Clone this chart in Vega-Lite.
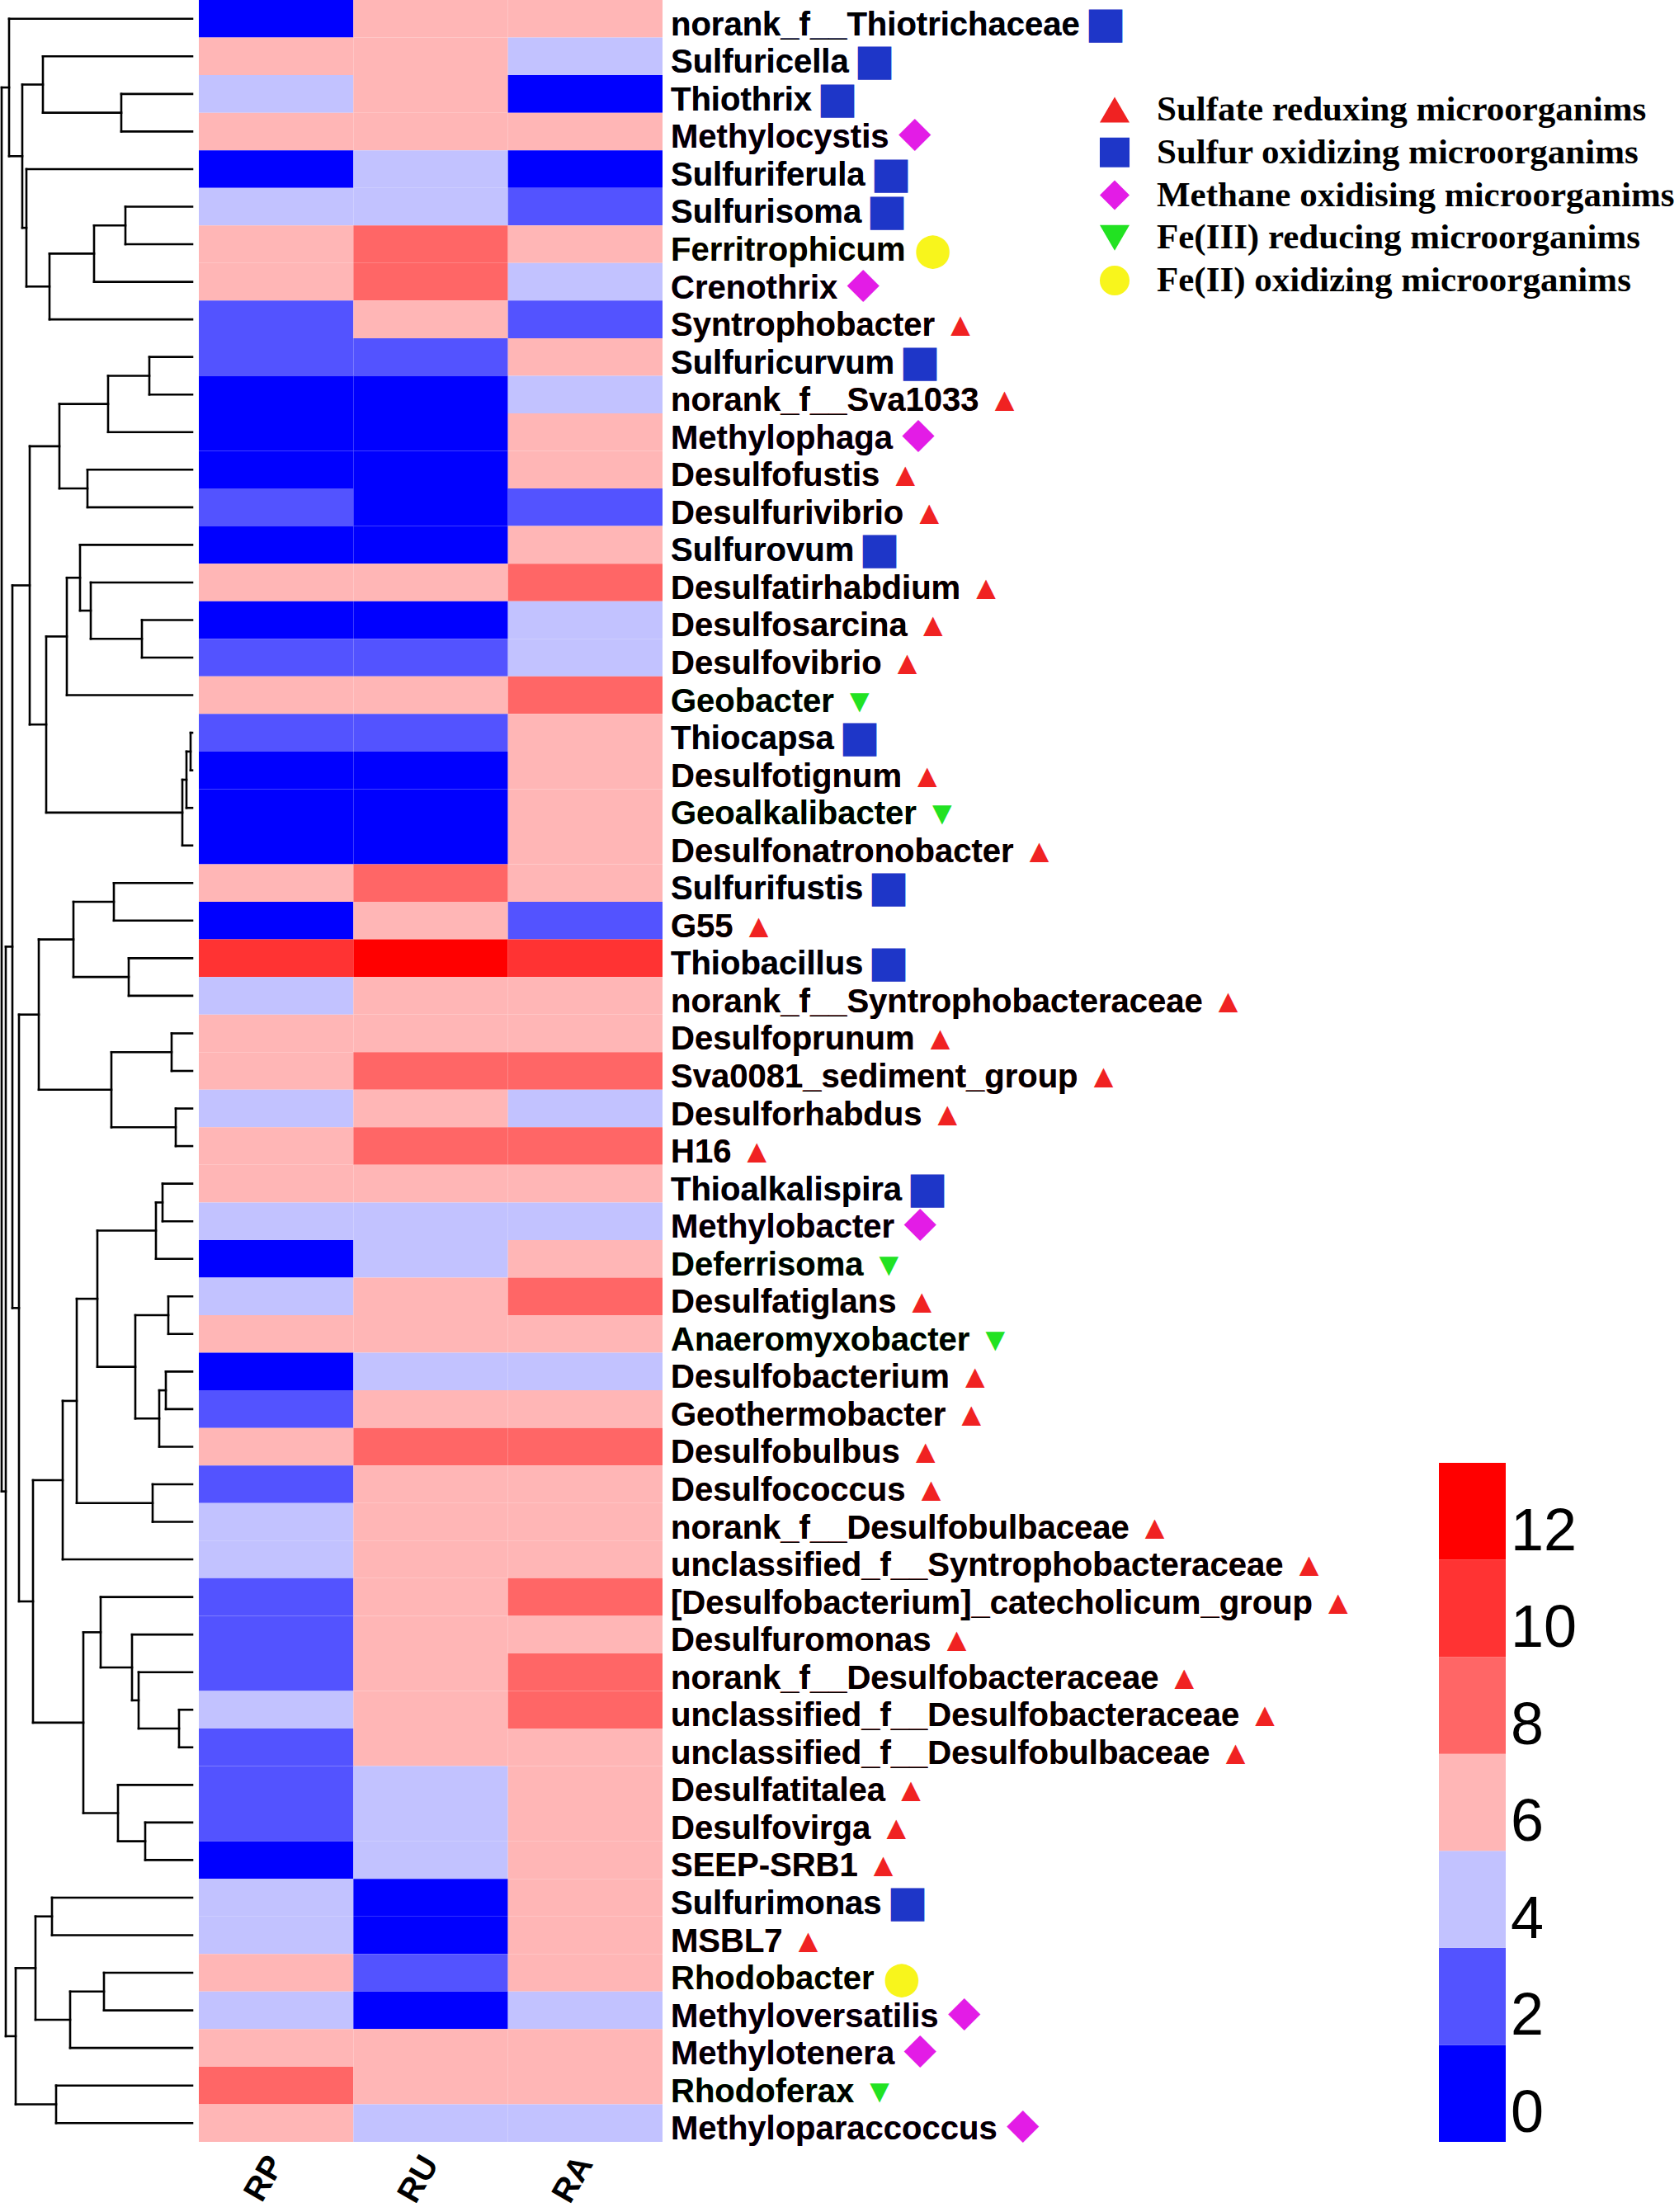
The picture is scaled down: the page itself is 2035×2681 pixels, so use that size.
{
"$schema": "https://vega.github.io/schema/vega-lite/v6.json",
"background": "white",
"padding": 0,
"bounds": "flush",
"spacing": 0,
"config": {"view": {"stroke": null}, "font": "Liberation Sans"},
"datasets": {
"taxa": [
{"i":1,"taxon":"norank_f__Thiotrichaceae","group":"SOM","RP":1,"RU":7,"RA":7},
{"i":2,"taxon":"Sulfuricella","group":"SOM","RP":7,"RU":7,"RA":5},
{"i":3,"taxon":"Thiothrix","group":"SOM","RP":5,"RU":7,"RA":1},
{"i":4,"taxon":"Methylocystis","group":"MOM","RP":7,"RU":7,"RA":7},
{"i":5,"taxon":"Sulfuriferula","group":"SOM","RP":1,"RU":5,"RA":1},
{"i":6,"taxon":"Sulfurisoma","group":"SOM","RP":5,"RU":5,"RA":3},
{"i":7,"taxon":"Ferritrophicum","group":"FeOM","RP":7,"RU":9,"RA":7},
{"i":8,"taxon":"Crenothrix","group":"MOM","RP":7,"RU":9,"RA":5},
{"i":9,"taxon":"Syntrophobacter","group":"SRM","RP":3,"RU":7,"RA":3},
{"i":10,"taxon":"Sulfuricurvum","group":"SOM","RP":3,"RU":3,"RA":7},
{"i":11,"taxon":"norank_f__Sva1033","group":"SRM","RP":1,"RU":1,"RA":5},
{"i":12,"taxon":"Methylophaga","group":"MOM","RP":1,"RU":1,"RA":7},
{"i":13,"taxon":"Desulfofustis","group":"SRM","RP":1,"RU":1,"RA":7},
{"i":14,"taxon":"Desulfurivibrio","group":"SRM","RP":3,"RU":1,"RA":3},
{"i":15,"taxon":"Sulfurovum","group":"SOM","RP":1,"RU":1,"RA":7},
{"i":16,"taxon":"Desulfatirhabdium","group":"SRM","RP":7,"RU":7,"RA":9},
{"i":17,"taxon":"Desulfosarcina","group":"SRM","RP":1,"RU":1,"RA":5},
{"i":18,"taxon":"Desulfovibrio","group":"SRM","RP":3,"RU":3,"RA":5},
{"i":19,"taxon":"Geobacter","group":"FeRM","RP":7,"RU":7,"RA":9},
{"i":20,"taxon":"Thiocapsa","group":"SOM","RP":3,"RU":3,"RA":7},
{"i":21,"taxon":"Desulfotignum","group":"SRM","RP":1,"RU":1,"RA":7},
{"i":22,"taxon":"Geoalkalibacter","group":"FeRM","RP":1,"RU":1,"RA":7},
{"i":23,"taxon":"Desulfonatronobacter","group":"SRM","RP":1,"RU":1,"RA":7},
{"i":24,"taxon":"Sulfurifustis","group":"SOM","RP":7,"RU":9,"RA":7},
{"i":25,"taxon":"G55","group":"SRM","RP":1,"RU":7,"RA":3},
{"i":26,"taxon":"Thiobacillus","group":"SOM","RP":11,"RU":13,"RA":11},
{"i":27,"taxon":"norank_f__Syntrophobacteraceae","group":"SRM","RP":5,"RU":7,"RA":7},
{"i":28,"taxon":"Desulfoprunum","group":"SRM","RP":7,"RU":7,"RA":7},
{"i":29,"taxon":"Sva0081_sediment_group","group":"SRM","RP":7,"RU":9,"RA":9},
{"i":30,"taxon":"Desulforhabdus","group":"SRM","RP":5,"RU":7,"RA":5},
{"i":31,"taxon":"H16","group":"SRM","RP":7,"RU":9,"RA":9},
{"i":32,"taxon":"Thioalkalispira","group":"SOM","RP":7,"RU":7,"RA":7},
{"i":33,"taxon":"Methylobacter","group":"MOM","RP":5,"RU":5,"RA":5},
{"i":34,"taxon":"Deferrisoma","group":"FeRM","RP":1,"RU":5,"RA":7},
{"i":35,"taxon":"Desulfatiglans","group":"SRM","RP":5,"RU":7,"RA":9},
{"i":36,"taxon":"Anaeromyxobacter","group":"FeRM","RP":7,"RU":7,"RA":7},
{"i":37,"taxon":"Desulfobacterium","group":"SRM","RP":1,"RU":5,"RA":5},
{"i":38,"taxon":"Geothermobacter","group":"SRM","RP":3,"RU":7,"RA":7},
{"i":39,"taxon":"Desulfobulbus","group":"SRM","RP":7,"RU":9,"RA":9},
{"i":40,"taxon":"Desulfococcus","group":"SRM","RP":3,"RU":7,"RA":7},
{"i":41,"taxon":"norank_f__Desulfobulbaceae","group":"SRM","RP":5,"RU":7,"RA":7},
{"i":42,"taxon":"unclassified_f__Syntrophobacteraceae","group":"SRM","RP":5,"RU":7,"RA":7},
{"i":43,"taxon":"[Desulfobacterium]_catecholicum_group","group":"SRM","RP":3,"RU":7,"RA":9},
{"i":44,"taxon":"Desulfuromonas","group":"SRM","RP":3,"RU":7,"RA":7},
{"i":45,"taxon":"norank_f__Desulfobacteraceae","group":"SRM","RP":3,"RU":7,"RA":9},
{"i":46,"taxon":"unclassified_f__Desulfobacteraceae","group":"SRM","RP":5,"RU":7,"RA":9},
{"i":47,"taxon":"unclassified_f__Desulfobulbaceae","group":"SRM","RP":3,"RU":7,"RA":7},
{"i":48,"taxon":"Desulfatitalea","group":"SRM","RP":3,"RU":5,"RA":7},
{"i":49,"taxon":"Desulfovirga","group":"SRM","RP":3,"RU":5,"RA":7},
{"i":50,"taxon":"SEEP-SRB1","group":"SRM","RP":1,"RU":5,"RA":7},
{"i":51,"taxon":"Sulfurimonas","group":"SOM","RP":5,"RU":1,"RA":7},
{"i":52,"taxon":"MSBL7","group":"SRM","RP":5,"RU":1,"RA":7},
{"i":53,"taxon":"Rhodobacter","group":"FeOM","RP":7,"RU":3,"RA":7},
{"i":54,"taxon":"Methyloversatilis","group":"MOM","RP":5,"RU":1,"RA":5},
{"i":55,"taxon":"Methylotenera","group":"MOM","RP":7,"RU":7,"RA":7},
{"i":56,"taxon":"Rhodoferax","group":"FeRM","RP":9,"RU":7,"RA":7},
{"i":57,"taxon":"Methyloparaccoccus","group":"MOM","RP":7,"RU":5,"RA":5}
],
"tree": [
{"h":8.6,"h2":8.6,"y":3,"y2":4},{"h":8.6,"h2":0,"y":3,"y2":3},{"h":8.6,"h2":0,"y":4,"y2":4},
{"h":18.1,"h2":18.1,"y":2,"y2":3.5},{"h":18.1,"h2":0,"y":2,"y2":2},{"h":18.1,"h2":8.6,"y":3.5,"y2":3.5},
{"h":8.1,"h2":8.1,"y":6,"y2":7},{"h":8.1,"h2":0,"y":6,"y2":6},{"h":8.1,"h2":0,"y":7,"y2":7},
{"h":11.9,"h2":11.9,"y":6.5,"y2":8},{"h":11.9,"h2":8.1,"y":6.5,"y2":6.5},{"h":11.9,"h2":0,"y":8,"y2":8},
{"h":17.3,"h2":17.3,"y":7.25,"y2":9},{"h":17.3,"h2":11.9,"y":7.25,"y2":7.25},{"h":17.3,"h2":0,"y":9,"y2":9},
{"h":20.1,"h2":20.1,"y":5,"y2":8.125},{"h":20.1,"h2":0,"y":5,"y2":5},{"h":20.1,"h2":17.3,"y":8.125,"y2":8.125},
{"h":20.6,"h2":20.6,"y":2.75,"y2":6.563},{"h":20.6,"h2":18.1,"y":2.75,"y2":2.75},{"h":20.6,"h2":20.1,"y":6.563,"y2":6.563},
{"h":22.2,"h2":22.2,"y":1,"y2":4.656},{"h":22.2,"h2":0,"y":1,"y2":1},{"h":22.2,"h2":20.6,"y":4.656,"y2":4.656},
{"h":5.2,"h2":5.2,"y":10,"y2":11},{"h":5.2,"h2":0,"y":10,"y2":10},{"h":5.2,"h2":0,"y":11,"y2":11},
{"h":10.2,"h2":10.2,"y":10.5,"y2":12},{"h":10.2,"h2":5.2,"y":10.5,"y2":10.5},{"h":10.2,"h2":0,"y":12,"y2":12},
{"h":12.7,"h2":12.7,"y":13,"y2":14},{"h":12.7,"h2":0,"y":13,"y2":13},{"h":12.7,"h2":0,"y":14,"y2":14},
{"h":16.1,"h2":16.1,"y":11.25,"y2":13.5},{"h":16.1,"h2":10.2,"y":11.25,"y2":11.25},{"h":16.1,"h2":12.7,"y":13.5,"y2":13.5},
{"h":6.1,"h2":6.1,"y":17,"y2":18},{"h":6.1,"h2":0,"y":17,"y2":17},{"h":6.1,"h2":0,"y":18,"y2":18},
{"h":12.3,"h2":12.3,"y":16,"y2":17.5},{"h":12.3,"h2":0,"y":16,"y2":16},{"h":12.3,"h2":6.1,"y":17.5,"y2":17.5},
{"h":13.6,"h2":13.6,"y":15,"y2":16.75},{"h":13.6,"h2":0,"y":15,"y2":15},{"h":13.6,"h2":12.3,"y":16.75,"y2":16.75},
{"h":15.2,"h2":15.2,"y":15.875,"y2":19},{"h":15.2,"h2":13.6,"y":15.875,"y2":15.875},{"h":15.2,"h2":0,"y":19,"y2":19},
{"h":0.2,"h2":0.2,"y":20,"y2":21},{"h":0.2,"h2":0,"y":20,"y2":20},{"h":0.2,"h2":0,"y":21,"y2":21},
{"h":0.7,"h2":0.7,"y":20.5,"y2":22},{"h":0.7,"h2":0.2,"y":20.5,"y2":20.5},{"h":0.7,"h2":0,"y":22,"y2":22},
{"h":1.2,"h2":1.2,"y":21.25,"y2":23},{"h":1.2,"h2":0.7,"y":21.25,"y2":21.25},{"h":1.2,"h2":0,"y":23,"y2":23},
{"h":17.7,"h2":17.7,"y":17.438,"y2":22.125},{"h":17.7,"h2":15.2,"y":17.438,"y2":17.438},{"h":17.7,"h2":1.2,"y":22.125,"y2":22.125},
{"h":19.7,"h2":19.7,"y":12.375,"y2":19.781},{"h":19.7,"h2":16.1,"y":12.375,"y2":12.375},{"h":19.7,"h2":17.7,"y":19.781,"y2":19.781},
{"h":9.5,"h2":9.5,"y":24,"y2":25},{"h":9.5,"h2":0,"y":24,"y2":24},{"h":9.5,"h2":0,"y":25,"y2":25},
{"h":7.7,"h2":7.7,"y":26,"y2":27},{"h":7.7,"h2":0,"y":26,"y2":26},{"h":7.7,"h2":0,"y":27,"y2":27},
{"h":14.4,"h2":14.4,"y":24.5,"y2":26.5},{"h":14.4,"h2":9.5,"y":24.5,"y2":24.5},{"h":14.4,"h2":7.7,"y":26.5,"y2":26.5},
{"h":2.5,"h2":2.5,"y":28,"y2":29},{"h":2.5,"h2":0,"y":28,"y2":28},{"h":2.5,"h2":0,"y":29,"y2":29},
{"h":2,"h2":2,"y":30,"y2":31},{"h":2,"h2":0,"y":30,"y2":30},{"h":2,"h2":0,"y":31,"y2":31},
{"h":9.8,"h2":9.8,"y":28.5,"y2":30.5},{"h":9.8,"h2":2.5,"y":28.5,"y2":28.5},{"h":9.8,"h2":2,"y":30.5,"y2":30.5},
{"h":18.6,"h2":18.6,"y":25.5,"y2":29.5},{"h":18.6,"h2":14.4,"y":25.5,"y2":25.5},{"h":18.6,"h2":9.8,"y":29.5,"y2":29.5},
{"h":3.6,"h2":3.6,"y":32,"y2":33},{"h":3.6,"h2":0,"y":32,"y2":32},{"h":3.6,"h2":0,"y":33,"y2":33},
{"h":4.4,"h2":4.4,"y":32.5,"y2":34},{"h":4.4,"h2":3.6,"y":32.5,"y2":32.5},{"h":4.4,"h2":0,"y":34,"y2":34},
{"h":2.9,"h2":2.9,"y":35,"y2":36},{"h":2.9,"h2":0,"y":35,"y2":35},{"h":2.9,"h2":0,"y":36,"y2":36},
{"h":3.2,"h2":3.2,"y":37,"y2":38},{"h":3.2,"h2":0,"y":37,"y2":37},{"h":3.2,"h2":0,"y":38,"y2":38},
{"h":4,"h2":4,"y":37.5,"y2":39},{"h":4,"h2":3.2,"y":37.5,"y2":37.5},{"h":4,"h2":0,"y":39,"y2":39},
{"h":6.9,"h2":6.9,"y":35.5,"y2":38.25},{"h":6.9,"h2":2.9,"y":35.5,"y2":35.5},{"h":6.9,"h2":4,"y":38.25,"y2":38.25},
{"h":11.5,"h2":11.5,"y":33.25,"y2":36.875},{"h":11.5,"h2":4.4,"y":33.25,"y2":33.25},{"h":11.5,"h2":6.9,"y":36.875,"y2":36.875},
{"h":4.8,"h2":4.8,"y":40,"y2":41},{"h":4.8,"h2":0,"y":40,"y2":40},{"h":4.8,"h2":0,"y":41,"y2":41},
{"h":14,"h2":14,"y":35.063,"y2":40.5},{"h":14,"h2":11.5,"y":35.063,"y2":35.063},{"h":14,"h2":4.8,"y":40.5,"y2":40.5},
{"h":15.7,"h2":15.7,"y":37.781,"y2":42},{"h":15.7,"h2":14,"y":37.781,"y2":37.781},{"h":15.7,"h2":0,"y":42,"y2":42},
{"h":1.6,"h2":1.6,"y":46,"y2":47},{"h":1.6,"h2":0,"y":46,"y2":46},{"h":1.6,"h2":0,"y":47,"y2":47},
{"h":6.5,"h2":6.5,"y":45,"y2":46.5},{"h":6.5,"h2":0,"y":45,"y2":45},{"h":6.5,"h2":1.6,"y":46.5,"y2":46.5},
{"h":7.3,"h2":7.3,"y":44,"y2":45.75},{"h":7.3,"h2":0,"y":44,"y2":44},{"h":7.3,"h2":6.5,"y":45.75,"y2":45.75},
{"h":11.1,"h2":11.1,"y":43,"y2":44.875},{"h":11.1,"h2":0,"y":43,"y2":43},{"h":11.1,"h2":7.3,"y":44.875,"y2":44.875},
{"h":5.7,"h2":5.7,"y":49,"y2":50},{"h":5.7,"h2":0,"y":49,"y2":49},{"h":5.7,"h2":0,"y":50,"y2":50},
{"h":9,"h2":9,"y":48,"y2":49.5},{"h":9,"h2":0,"y":48,"y2":48},{"h":9,"h2":5.7,"y":49.5,"y2":49.5},
{"h":13.2,"h2":13.2,"y":43.938,"y2":48.75},{"h":13.2,"h2":11.1,"y":43.938,"y2":43.938},{"h":13.2,"h2":9,"y":48.75,"y2":48.75},
{"h":19.3,"h2":19.3,"y":39.891,"y2":46.344},{"h":19.3,"h2":15.7,"y":39.891,"y2":39.891},{"h":19.3,"h2":13.2,"y":46.344,"y2":46.344},
{"h":21,"h2":21,"y":27.5,"y2":43.117},{"h":21,"h2":18.6,"y":27.5,"y2":27.5},{"h":21,"h2":19.3,"y":43.117,"y2":43.117},
{"h":21.8,"h2":21.8,"y":16.078,"y2":35.309},{"h":21.8,"h2":19.7,"y":16.078,"y2":16.078},{"h":21.8,"h2":21,"y":35.309,"y2":35.309},
{"h":17,"h2":17,"y":51,"y2":52},{"h":17,"h2":0,"y":51,"y2":51},{"h":17,"h2":0,"y":52,"y2":52},
{"h":10.7,"h2":10.7,"y":53,"y2":54},{"h":10.7,"h2":0,"y":53,"y2":53},{"h":10.7,"h2":0,"y":54,"y2":54},
{"h":14.8,"h2":14.8,"y":53.5,"y2":55},{"h":14.8,"h2":10.7,"y":53.5,"y2":53.5},{"h":14.8,"h2":0,"y":55,"y2":55},
{"h":19,"h2":19,"y":51.5,"y2":54.25},{"h":19,"h2":17,"y":51.5,"y2":51.5},{"h":19,"h2":14.8,"y":54.25,"y2":54.25},
{"h":16.5,"h2":16.5,"y":56,"y2":57},{"h":16.5,"h2":0,"y":56,"y2":56},{"h":16.5,"h2":0,"y":57,"y2":57},
{"h":21.4,"h2":21.4,"y":52.875,"y2":56.5},{"h":21.4,"h2":19,"y":52.875,"y2":52.875},{"h":21.4,"h2":16.5,"y":56.5,"y2":56.5},
{"h":22.6,"h2":22.6,"y":25.693,"y2":54.688},{"h":22.6,"h2":21.8,"y":25.693,"y2":25.693},{"h":22.6,"h2":21.4,"y":54.688,"y2":54.688},
{"h":23.1,"h2":23.1,"y":2.828,"y2":40.19},{"h":23.1,"h2":22.2,"y":2.828,"y2":2.828},{"h":23.1,"h2":22.6,"y":40.19,"y2":40.19}
],
"groups": [
{"k":1,"group":"SRM","name":"Sulfate reduxing microorganims"},
{"k":2,"group":"SOM","name":"Sulfur oxidizing microorganims"},
{"k":3,"group":"MOM","name":"Methane oxidising microorganims"},
{"k":4,"group":"FeRM","name":"Fe(III) reducing microorganims"},
{"k":5,"group":"FeOM","name":"Fe(II) oxidizing microorganims"}
],
"bins": [
{"lo":0,"hi":2},{"lo":2,"hi":4},{"lo":4,"hi":6},{"lo":6,"hi":8},{"lo":8,"hi":10},{"lo":10,"hi":12},{"lo":12,"hi":14}
]
},
"hconcat": [
{
"width": 241, "height": 2596,
"data": {"name": "tree"},
"mark": {"type": "rule", "color": "black", "strokeWidth": 2.6, "strokeCap": "square"},
"encoding": {
"x": {"field": "h", "type": "quantitative", "scale": {"domain": [-0.8, 23.3], "reverse": true, "nice": false, "zero": false}, "axis": null},
"x2": {"field": "h2"},
"y": {"field": "y", "type": "quantitative", "scale": {"domain": [0.5, 57.5], "reverse": true, "nice": false, "zero": false}, "axis": null},
"y2": {"field": "y2"}
}
},
{
"width": 562, "height": 2596,
"data": {"name": "taxa"},
"transform": [{"fold": ["RP", "RU", "RA"], "as": ["sample", "value"]}],
"mark": {"type": "rect"},
"encoding": {
"x": {"field": "sample", "type": "nominal", "sort": ["RP", "RU", "RA"], "scale": {"paddingInner": 0, "paddingOuter": 0},
"axis": {"title": null, "labelAngle": -60, "labelAlign": "right", "labelBaseline": "middle", "labelFont": "Liberation Sans", "labelFontWeight": "bold", "labelFontSize": 40, "labelColor": "black", "ticks": false, "domain": false, "labelPadding": 20}},
"y": {"field": "i", "type": "ordinal", "scale": {"paddingInner": 0, "paddingOuter": 0}, "axis": null},
"color": {"field": "value", "type": "quantitative", "scale": {"type": "threshold", "domain": [2, 4, 6, 8, 10, 12], "range": ["#0000FF", "#5353FF", "#C2C2FF", "#FFB6B6", "#FF6666", "#FF3333", "#FF0000"]}, "legend": null}
}
},
{
"width": 548, "height": 2596,
"data": {"name": "taxa"},
"encoding": {
"y": {"field": "i", "type": "ordinal", "scale": {"paddingInner": 0, "paddingOuter": 0}, "axis": null},
"x": {"datum": 0, "type": "quantitative", "scale": {"domain": [0, 1]}, "axis": null}
},
"layer": [
{
"transform": [{"calculate": "datum.taxon + ' ' + (datum.group == 'SRM' ? '▲' : datum.group == 'SOM' ? '⬛︎' : datum.group == 'MOM' ? '◆' : datum.group == 'FeRM' ? '▼' : '⬤')", "as": "lab"}],
"mark": {"type": "text", "dx": 10, "dy": 8, "align": "left", "baseline": "middle", "font": "Liberation Sans, Noto Sans CJK SC, DejaVu Sans", "fontWeight": "bold", "fontSize": 40},
"encoding": {
"text": {"field": "lab"},
"fill": {"field": "group", "type": "nominal", "scale": {"domain": ["SRM", "SOM", "MOM", "FeRM", "FeOM"], "range": ["#F02222", "#1E36C8", "#E31CE6", "#22E222", "#F8F51C"]}, "legend": null}
}
},
{
"mark": {"type": "text", "dx": 10, "dy": 8, "align": "left", "baseline": "middle", "font": "Liberation Sans, Noto Sans CJK SC, DejaVu Sans", "fontWeight": "bold", "fontSize": 40, "color": "black"},
"encoding": {"text": {"field": "taxon"}}
}
]
},
{
"width": 393, "height": 473,
"data": {"name": "groups"},
"encoding": {
"y": {"field": "k", "type": "quantitative", "scale": {"domain": [-1.57, 7.57], "reverse": true, "nice": false, "zero": false}, "axis": null},
"x": {"datum": 0, "type": "quantitative", "scale": {"domain": [0, 1]}, "axis": null}
},
"layer": [
{
"mark": {"type": "point", "filled": true, "opacity": 1, "size": 1300},
"encoding": {
"shape": {"field": "group", "type": "nominal", "scale": {"domain": ["SRM", "SOM", "MOM", "FeRM", "FeOM"], "range": ["triangle-up", "square", "diamond", "triangle-down", "circle"]}, "legend": null},
"fill": {"field": "group", "type": "nominal", "scale": {"domain": ["SRM", "SOM", "MOM", "FeRM", "FeOM"], "range": ["#F02222", "#1E36C8", "#E31CE6", "#22E222", "#F8F51C"]}, "legend": null}
}
},
{
"mark": {"type": "text", "dx": 51, "align": "left", "baseline": "middle", "font": "Liberation Serif", "fontWeight": "bold", "fontSize": 43, "color": "black"},
"encoding": {"text": {"field": "name"}}
}
]
},
{
"width": 81, "height": 2596,
"data": {"name": "bins"},
"encoding": {
"y": {"field": "lo", "type": "quantitative", "scale": {"domain": [0, 44.16], "nice": false, "zero": false}, "axis": null}
},
"layer": [
{
"mark": {"type": "rect"},
"encoding": {
"y2": {"field": "hi"},
"color": {"field": "lo", "type": "quantitative", "scale": {"type": "threshold", "domain": [2, 4, 6, 8, 10, 12], "range": ["#0000FF", "#5353FF", "#C2C2FF", "#FFB6B6", "#FF6666", "#FF3333", "#FF0000"]}, "legend": null}
}
},
{
"mark": {"type": "text", "x": "width", "dx": 6, "dy": -12, "align": "left", "baseline": "alphabetic", "font": "Liberation Sans", "fontSize": 72, "color": "black"},
"encoding": {"text": {"field": "lo", "type": "quantitative"}}
}
]
}
]
}
